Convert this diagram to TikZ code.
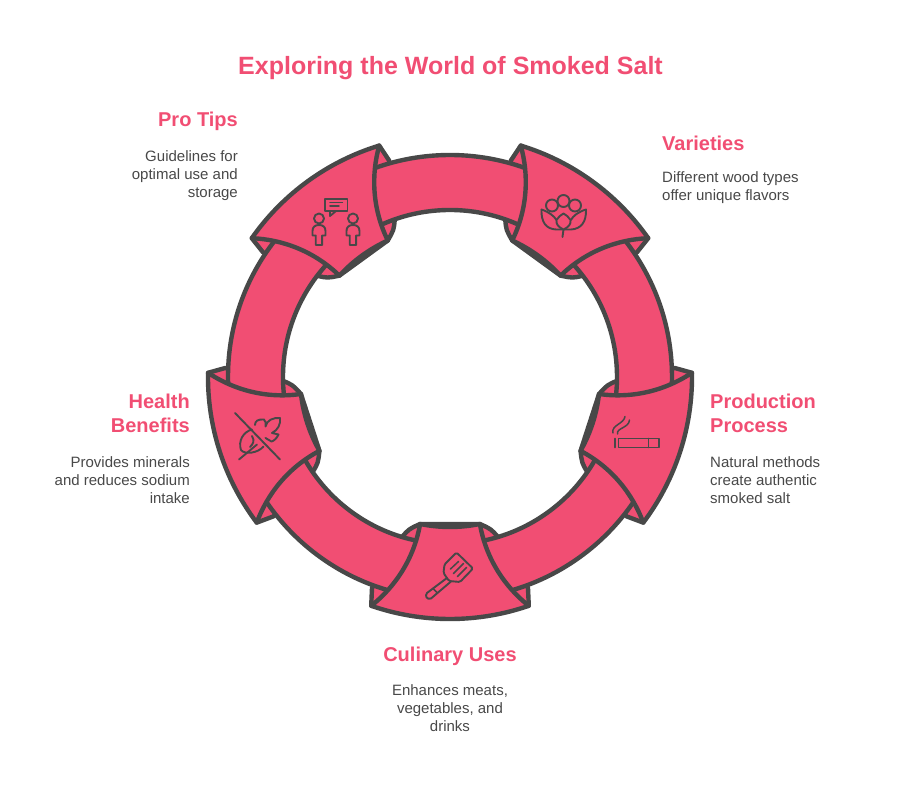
\documentclass[tikz,border=0pt]{standalone}
\usepackage{fontspec}
\setmainfont{Liberation Sans}
\usetikzlibrary{positioning}
\definecolor{saltpink}{RGB}{241,78,115}
\definecolor{saltgray}{RGB}{72,72,72}

\begin{document}
\begin{tikzpicture}[
      x=1pt, y=1pt,
      ribbon/.style={draw=saltgray, fill=saltpink, line width=4.4pt, line join=round},
      glyph/.style={draw=saltgray, line width=1.9pt, line join=round, line cap=round},
      pixels/.style={shift={(-450,377)}, y=-1pt},
      heading/.style={font=\bfseries\fontsize{20}{24}\selectfont, text=saltpink, inner sep=0pt,
                      text depth=5pt},
      note/.style={font=\fontsize{15}{18}\selectfont, text=saltgray, inner sep=0pt,
                   text depth=3pt},
    ]
    \useasboundingbox (-450,-433) rectangle (450,377);

    % flaps behind the ring
    \foreach \ang in {0,72,144,216,288} {
      \begin{scope}[rotate=\ang]
        \draw[ribbon] (-48,-160) .. controls (-41,-152) .. (-101.5:150) -- (-78.5:150)
          .. controls (41,-152) .. (48,-160) -- (78,-211) -- (-71:242) -- (-109:242) -- (-78,-211) -- cycle;
      \end{scope}
    }
    \draw[ribbon, even odd rule] (0,0) circle[radius=222pt] (0,0) circle[radius=167pt];
    \foreach \ang in {0,72,144,216,288} {
      \begin{scope}[rotate=\ang]
        \draw[ribbon] (-101.5:150) arc[start angle=-101.5, end angle=-78.5, radius=150pt]
          .. controls (36,-182) and (55,-210) .. (-71:242)
          arc[start angle=-71, end angle=-109, radius=242pt]
          .. controls (-55,-210) and (-36,-182) .. cycle;
      \end{scope}
    }

    % icons
    \begin{scope}[pixels]
      % people
      \draw[glyph] (325,199) rectangle (347.5,211);
      \draw[glyph] (330,211) -- (330,216) -- (336,211);
      \draw[glyph, line width=1.5pt] (330,202.5) -- (342.5,202.5) (330,206) -- (339,206);
      \foreach \px in {319,353} {
        \draw[glyph] (\px,218.5) circle[radius=5pt];
        \draw[glyph] (\px,225) .. controls (\px-4,225) and (\px-6.5,227) .. (\px-6.5,231)
          -- (\px-6.5,235.5) -- (\px-3.2,235.5) -- (\px-3.2,245) -- (\px+3.2,245) -- (\px+3.2,235.5)
          -- (\px+6.5,235.5) -- (\px+6.5,231) .. controls (\px+6.5,227) and (\px+4,225) .. (\px,225);
      }
      % flower
      \draw[glyph] (552,205.5) circle[radius=6pt] (575,205.5) circle[radius=6pt];
      \draw[glyph, fill=saltpink] (563.5,201) circle[radius=6pt];
      \draw[glyph] (541.5,209.5) .. controls (541,222) and (546,229) .. (556,229.5) -- (563.5,229.5)
        -- (571,229.5) .. controls (581,229) and (586.5,222) .. (586,209.5)
        .. controls (578,212) and (573,216) .. (571,220);
      \draw[glyph] (541.5,209.5) .. controls (549,212) and (554,216) .. (556.5,220);
      \draw[glyph, fill=saltpink] (563.5,229.5) .. controls (558,227) and (556,224) .. (556.5,220)
        .. controls (558,217) and (561,215) .. (563.5,213.5)
        .. controls (566,215) and (569,217) .. (570.5,220)
        .. controls (571,224) and (569,227) .. (563.5,229.5) -- (562.5,237);
      % cigarette
      \draw[glyph] (618.5,438.5) rectangle (659,447.5);
      \draw[glyph] (648.5,438.5) -- (648.5,447.5) (615,438.5) -- (615,447.5);
      \draw[glyph, line width=1.5pt] (613,433) .. controls (611,425) and (624,424) .. (625,416.5);
      \draw[glyph, line width=1.5pt] (617.5,434) .. controls (616,428) and (629,428) .. (629.5,420);
      % spatula
      \draw[glyph, rounded corners=1.5pt] (456.5,552.5) -- (473,568.5) -- (460,582) -- (449,581) -- (443.5,573) -- (444.5,564.5) -- cycle;
      \draw[glyph] (447,578) -- (427,593) .. controls (424.5,596) and (427,600) .. (431,598.5) -- (451,581.5);
      \draw[glyph, line width=1.5pt] (433,588.5) -- (437,592.5);
      \draw[glyph, line width=1.5pt] (450.5,569) -- (458.5,561.5) (453.5,573.5) -- (463.5,563.5) (457.5,576.5) -- (466.5,567.5);
      % crossed leaf
      \draw[glyph] (235,413) -- (280,459.5) (239,459.5) -- (257,444.5);
      \draw[glyph] (252,429.5) .. controls (243,432) and (238,441) .. (241,450)
        .. controls (245,455) and (258,453) .. (263.5,446.5);
      \draw[glyph] (252,436) .. controls (255,441) and (253,444) .. (250,447);
      \draw[glyph] (255,425) .. controls (255,421) and (258,419) .. (264,419.5)
        .. controls (266,421) and (266,424) .. (265.5,426.5)
        .. controls (267,420) and (273,417.5) .. (280,418)
        .. controls (281,424) and (278,430) .. (272,433)
        -- (278.5,434.5) .. controls (277,438) and (274,441) .. (271.5,441.5) -- (265.5,438);
    \end{scope}

    % texts
    \node[font=\bfseries\fontsize{25}{30}\selectfont, text=saltpink, inner sep=0pt] (title) at (0.5,309) {Exploring the World of Smoked Salt};

    \node[heading, anchor=base east] (protips) at (-212,250) {Pro Tips};
    \node[note, align=right, below=18pt of protips.south east, anchor=north east] (protipsnote)
      {Guidelines for\\optimal use and\\storage};

    \node[heading, anchor=base west] (varieties) at (212,226) {Varieties};
    \node[note, align=left, below=15pt of varieties.south west, anchor=north west] (varietiesnote)
      {Different wood types\\offer unique flavors};

    \node[heading, anchor=base west, align=left] (production) at (260,-56) {Production\\Process};
    \node[note, align=left, below=18pt of production.south west, anchor=north west] (productionnote)
      {Natural methods\\create authentic\\smoked salt};

    \node[heading, anchor=base] (culinary) at (0,-284.5) {Culinary Uses};
    \node[note, align=center, below=18pt of culinary] (culinarynote)
      {Enhances meats,\\vegetables, and\\drinks};

    \node[heading, anchor=base east, align=right] (health) at (-260,-56) {Health\\Benefits};
    \node[note, align=right, below=18pt of health.south east, anchor=north east] (healthnote)
      {Provides minerals\\and reduces sodium\\intake};
\end{tikzpicture}
\end{document}
